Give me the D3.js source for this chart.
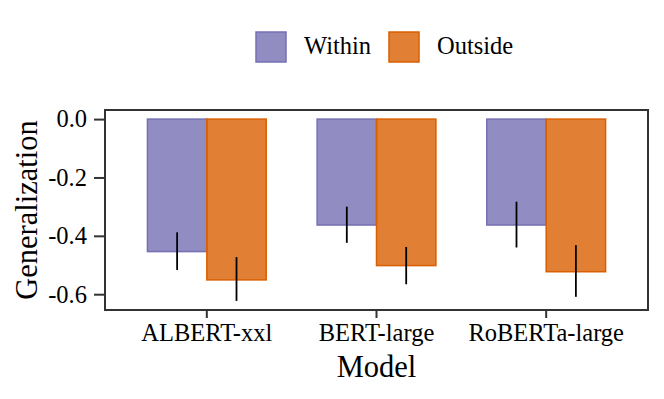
<!DOCTYPE html>
<html>
<head>
<meta charset="utf-8">
<script src="https://cdn.jsdelivr.net/npm/d3@7"></script>
<style>
  body { margin: 0; background: #fff; }
  svg { display: block; font-family: 'Liberation Serif', 'DejaVu Serif', serif; }
</style>
</head>
<body>
<svg id="chart" width="664" height="399"></svg>
<script>
const models = ['ALBERT-xxl', 'BERT-large', 'RoBERTa-large'];
const groups = ['Within', 'Outside'];

// mean generalization, with error bar ends
const withinMean = [-0.454, -0.363, -0.363];
const withinLow = [-0.517, -0.424, -0.440];
const withinHigh = [-0.388, -0.300, -0.283];
const outsideMean = [-0.551, -0.502, -0.523];
const outsideLow = [-0.623, -0.566, -0.609];
const outsideHigh = [-0.473, -0.438, -0.432];

const yTicks = [0, -0.2, -0.4, -0.6];

const colors = { Within: '#7570b3', Outside: '#d95f02' };

const rows = [];
models.forEach((m, i) => {
  rows.push({ model: m, group: 'Within', mean: withinMean[i], low: withinLow[i], high: withinHigh[i] });
  rows.push({ model: m, group: 'Outside', mean: outsideMean[i], low: outsideLow[i], high: outsideHigh[i] });
});

const panel = { left: 105, right: 648, top: 110, bottom: 310 };
const svg = d3.select('#chart');

const x = d3.scaleBand()
  .domain(models)
  .range([panel.left, panel.right])
  .paddingInner(0.3)
  .paddingOuter(0.25);

const xInner = d3.scaleBand()
  .domain(groups)
  .range([0, x.bandwidth()]);

// ggplot-style 5% expansion on the data range
const lo = d3.min(rows, d => Math.min(d.low, d.mean));
const hi = Math.max(0, d3.max(rows, d => d.high));
const pad = (hi - lo) * 0.05;
const y = d3.scaleLinear()
  .domain([lo - pad, hi + pad])
  .range([panel.bottom, panel.top]);

// bars
svg.append('g').selectAll('rect')
  .data(rows)
  .join('rect')
  .attr('x', d => x(d.model) + xInner(d.group))
  .attr('y', d => y(0))
  .attr('width', xInner.bandwidth())
  .attr('height', d => y(d.mean) - y(0))
  .attr('fill', d => colors[d.group])
  .attr('fill-opacity', 0.8)
  .attr('stroke', d => colors[d.group])
  .attr('stroke-width', 1.5);

// error bars
svg.append('g').selectAll('line')
  .data(rows)
  .join('line')
  .attr('x1', d => x(d.model) + xInner(d.group) + xInner.bandwidth() / 2)
  .attr('x2', d => x(d.model) + xInner(d.group) + xInner.bandwidth() / 2)
  .attr('y1', d => y(d.low))
  .attr('y2', d => y(d.high))
  .attr('stroke', '#000')
  .attr('stroke-width', 1.8);

// panel border
svg.append('rect')
  .attr('x', panel.left)
  .attr('y', panel.top)
  .attr('width', panel.right - panel.left)
  .attr('height', panel.bottom - panel.top)
  .attr('fill', 'none')
  .attr('stroke', '#333')
  .attr('stroke-width', 2);

// axes
const yAxis = svg.append('g')
  .attr('transform', `translate(${panel.left},0)`)
  .call(d3.axisLeft(y).tickValues(yTicks).tickFormat(d3.format('.1f')).tickSize(11).tickPadding(7));
const xAxis = svg.append('g')
  .attr('transform', `translate(0,${panel.bottom})`)
  .call(d3.axisBottom(x).tickSize(8).tickPadding(6));

[xAxis, yAxis].forEach(a => {
  a.attr('font-family', null).attr('font-size', null);
  a.select('.domain').remove();
  a.selectAll('.tick line').attr('stroke', '#333').attr('stroke-width', 2);
  a.selectAll('.tick text')
    .attr('fill', '#000')
    .style('font-family', "'Liberation Serif', serif")
    .style('font-size', '24.5px');
});
yAxis.selectAll('.tick text').text(d => d3.format('.1f')(d).replace('−', '-'));

// axis titles
svg.append('text')
  .attr('x', (panel.left + panel.right) / 2)
  .attr('y', 377)
  .attr('text-anchor', 'middle')
  .style('font-size', '30.5px')
  .text('Model');

svg.append('text')
  .attr('transform', `translate(37,${(panel.top + panel.bottom) / 2}) rotate(-90)`)
  .attr('text-anchor', 'middle')
  .style('font-size', '30.5px')
  .text('Generalization');

// legend
const legendX = [256, 389];
const legend = svg.append('g').selectAll('g')
  .data(groups)
  .join('g')
  .attr('transform', (d, i) => `translate(${legendX[i]},32)`);
legend.append('rect')
  .attr('width', 30)
  .attr('height', 30)
  .attr('fill', d => colors[d])
  .attr('fill-opacity', 0.8)
  .attr('stroke', d => colors[d])
  .attr('stroke-width', 1.5);
legend.append('text')
  .attr('x', 48)
  .attr('y', 22)
  .style('font-size', '24.5px')
  .text(d => d);
</script>
</body>
</html>
